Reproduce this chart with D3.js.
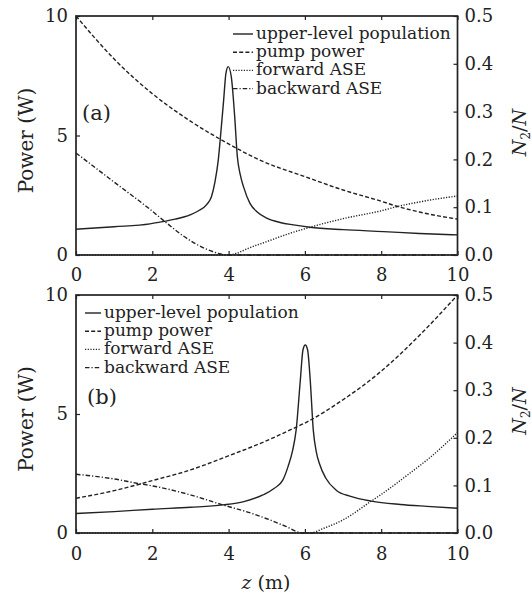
<!DOCTYPE html>
<html>
<head>
<meta charset="utf-8">
<script src="https://cdn.jsdelivr.net/npm/d3@7"></script>
<style>
  body { margin: 0; background: #fff; }
  text { font-family: "DejaVu Serif", serif; fill: #222; }
  .frame { fill: none; stroke: #222; stroke-width: 1.7; }
  .curve { fill: none; stroke: #222; stroke-width: 1.4; }
</style>
</head>
<body>
<svg id="chart" width="532" height="597"></svg>
<script>
// ---- data ----
const zTicks = [0, 2, 4, 6, 8, 10];
const powerTicks = [0, 5, 10];
const ratioTicks = [0, 0.1, 0.2, 0.3, 0.4, 0.5];

// panel (a): pump enters at z = 0
const popA = [[0,0.054],[1,0.059],[1.94,0.065],[2.29,0.070],[2.6,0.075],[2.99,0.084],[3.2,0.092],[3.43,0.106],[3.55,0.122],[3.64,0.152],[3.73,0.199],[3.78,0.241],[3.87,0.324],[3.93,0.38],[3.99,0.394],[4.07,0.373],[4.16,0.289],[4.23,0.205],[4.3,0.17],[4.39,0.143],[4.56,0.108],[4.75,0.09],[5,0.077],[5.35,0.068],[5.7,0.063],[6.13,0.058],[7,0.053],[8.06,0.049],[9,0.045],[10,0.042]];
const pumpA = [[0,10],[1,8.2],[2,6.75],[3,5.6],[4,4.65],[4.82,3.97],[6,3.28],[7,2.72],[8,2.25],[8.41,2.04],[9,1.8],[10,1.5]];
const fwdA = [[0,0],[4,0],[4.21,0.07],[4.5,0.27],[5,0.56],[5.5,0.85],[6.13,1.16],[7,1.52],[8,1.85],[8.41,2.02],[9,2.22],[10,2.47]];
const bwdA = [[0,4.27],[1,3.05],[1.94,1.91],[2.29,1.45],[2.81,0.8],[3.3,0.33],[3.73,0.07],[3.95,0],[10,0]];

// panel (b): pump enters at z = 10
const popB = [[0,0.041],[1,0.045],[2,0.05],[3,0.054],[3.85,0.059],[4.4,0.066],[4.9,0.08],[5.2,0.094],[5.42,0.111],[5.56,0.14],[5.68,0.174],[5.77,0.216],[5.88,0.321],[5.95,0.385],[6.01,0.395],[6.07,0.385],[6.14,0.321],[6.22,0.216],[6.3,0.17],[6.38,0.146],[6.55,0.115],[6.82,0.09],[7.2,0.077],[7.74,0.067],[8.5,0.06],[9.2,0.056],[10,0.052]];
const pumpB = [[0,1.46],[1,1.78],[1.66,2.05],[2,2.2],[3,2.65],[3.93,3.2],[5,3.88],[5.68,4.38],[6,4.62],[7,5.6],[7.85,6.6],[8,6.8],[9,8.3],[10,10]];
const fwdB = [[0,0],[6.12,0],[6.5,0.2],[7,0.55],[7.74,1.34],[8,1.62],[8.74,2.5],[9.3,3.2],[10,4.22]];
const bwdB = [[0,2.47],[1,2.27],[1.66,2.07],[2,1.98],[3,1.6],[3.85,1.18],[4.5,0.88],[5,0.6],[5.5,0.28],[5.94,0],[10,0]];

const legendLabels = ["upper-level population", "pump power", "forward ASE", "backward ASE"];
const dashes = [null, "4,2.2", "1.2,1.5", "4.5,2,1.2,2"];

const svg = d3.select("#chart");
const xLeft = 76, xRight = 457.5;

function drawPanel(cfg) {
  const x = d3.scaleLinear().domain([0, 10]).range([xLeft, xRight]);
  const y = d3.scaleLinear().domain([0, 10]).range([cfg.bottom, cfg.top]);
  const y2 = d3.scaleLinear().domain([0, 0.5]).range([cfg.bottom, cfg.top]);
  const g = svg.append("g");

  // curves
  const lineP = d3.line().x(d => x(d[0])).y(d => y(d[1])).curve(d3.curveMonotoneX);
  const lineN = d3.line().x(d => x(d[0])).y(d => y2(d[1])).curve(d3.curveMonotoneX);
  const series = [[cfg.pop, lineN], [cfg.pump, lineP], [cfg.fwd, lineP], [cfg.bwd, lineP]];
  series.forEach((s, i) => {
    g.append("path").attr("class", "curve")
      .attr("d", s[1](s[0]))
      .attr("stroke-dasharray", dashes[i]);
  });

  // axes: inward ticks on all four sides
  g.append("g").attr("transform", `translate(0,${cfg.bottom})`)
    .call(d3.axisBottom(x).tickValues(zTicks).tickSize(-4).tickPadding(cfg.xPad).tickFormat(d3.format("d")));
  g.append("g").attr("transform", `translate(0,${cfg.top})`)
    .call(d3.axisTop(x).tickValues(zTicks).tickSize(-4).tickFormat(""));
  g.append("g").attr("transform", `translate(${xLeft},0)`)
    .call(d3.axisLeft(y).tickValues(powerTicks).tickSize(-4).tickPadding(8).tickFormat(d3.format("d")));
  g.append("g").attr("transform", `translate(${xRight},0)`)
    .call(d3.axisRight(y2).tickValues(ratioTicks).tickSize(-4).tickPadding(7).tickFormat(d3.format(".1f")));
  g.selectAll(".domain").remove();
  g.selectAll(".tick line").attr("stroke", "#222").attr("stroke-width", 1.2);
  g.selectAll(".tick text").style("font-family", "DejaVu Serif").style("font-size", "18px").attr("fill", "#222");

  g.append("rect").attr("class", "frame")
    .attr("x", xLeft).attr("y", cfg.top)
    .attr("width", xRight - xLeft).attr("height", cfg.bottom - cfg.top);

  // legend
  legendLabels.forEach((lab, i) => {
    const ly = cfg.legY + i * 18.2;
    g.append("line").attr("class", "curve")
      .attr("x1", cfg.legX).attr("x2", cfg.legX + cfg.legLen)
      .attr("y1", ly).attr("y2", ly)
      .attr("stroke-dasharray", dashes[i]);
    g.append("text").attr("x", cfg.legX + cfg.legLen + 3).attr("y", ly + 5)
      .style("font-size", "17px").text(lab);
  });

  g.append("text").attr("x", cfg.tagX).attr("y", cfg.tagY)
    .style("font-size", "21px").text(cfg.tag);

  // axis titles
  const mid = (cfg.top + cfg.bottom) / 2;
  g.append("text")
    .attr("transform", `translate(33,${mid + 5}) rotate(-90)`)
    .attr("text-anchor", "middle").style("font-size", "20px")
    .text("Power (W)");
  const n = g.append("text")
    .attr("transform", `translate(526,${mid - 3}) rotate(-90)`)
    .attr("text-anchor", "middle").style("font-size", "19px");
  n.append("tspan").style("font-style", "italic").text("N");
  n.append("tspan").attr("dy", 4).style("font-size", "12px").text("2");
  n.append("tspan").attr("dy", -4).text("/");
  n.append("tspan").style("font-style", "italic").text("N");
}

drawPanel({ top: 16, bottom: 255, pop: popA, pump: pumpA, fwd: fwdA, bwd: bwdA, xPad: 13,
  legX: 233, legY: 34, legLen: 20, tag: "(a)", tagX: 82, tagY: 120 });
drawPanel({ top: 295, bottom: 533, pop: popB, pump: pumpB, fwd: fwdB, bwd: bwdB, xPad: 14,
  legX: 85, legY: 313, legLen: 16, tag: "(b)", tagX: 87, tagY: 404 });

const xl = svg.append("text").attr("x", 266).attr("y", 589)
  .attr("text-anchor", "middle").style("font-size", "19px");
xl.append("tspan").style("font-style", "italic").text("z");
xl.append("tspan").text(" (m)");
</script>
</body>
</html>
